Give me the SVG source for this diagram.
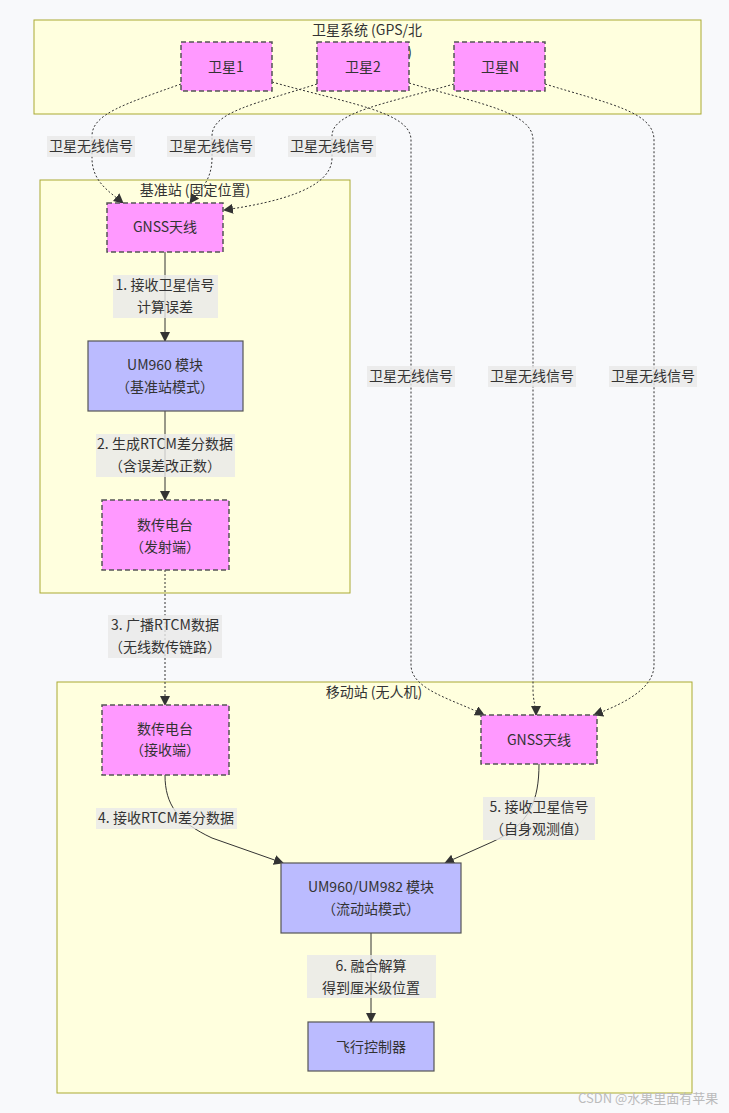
<svg xmlns="http://www.w3.org/2000/svg" width="729" height="1113" viewBox="0 0 729 1113">
<defs>
<style>
text{font-family:"Noto Sans CJK SC","Noto Sans",sans-serif;font-size:14px;fill:#333;text-anchor:middle}
.cl{fill:#ffffde;stroke:#aaaa33;stroke-width:1}
.pk{fill:#ff99ff;stroke:#555;stroke-width:1.5;stroke-dasharray:5 3}
.bl{fill:#bbbbff;stroke:#555;stroke-width:1.2}
.e{fill:none;stroke:#333;stroke-width:1}
.d{fill:none;stroke:#333;stroke-width:1;stroke-dasharray:2 2}
.lb{fill:#e8e8e8;fill-opacity:0.8}
.wm{fill:#bbb;font-size:13px;text-anchor:start}
</style>
<marker id="ah" viewBox="0 0 10 10" refX="9" refY="5" markerWidth="10" markerHeight="10" markerUnits="userSpaceOnUse" orient="auto">
<path d="M0,0 L10,5 L0,10 z" fill="#333"/>
</marker>
</defs>
<rect width="729" height="1113" fill="#f8f9fb"/>

<g id="clusters">
<g id="sat-system">
<rect class="cl" x="34" y="20" width="667" height="94"/>
<text x="367" y="35">卫星系统 (GPS/北</text>
<text x="412" y="57" style="text-anchor:end">斗)</text>
</g>
<g id="base-station">
<rect class="cl" x="40" y="180" width="310" height="413"/>
<text x="195" y="195">基准站 (固定位置)</text>
</g>
<g id="rover">
<rect class="cl" x="57" y="682" width="635" height="411"/>
<text x="374" y="697">移动站 (无人机)</text>
</g>
</g>

<g id="connectors">
<path class="d" d="M181,84 C125,104 92,114 92,136 L92,158 C92,182 110,192 123,203" marker-end="url(#ah)"/>
<path class="d" d="M317,84 C255,104 212,112 212,136 L212,158 C212,182 198,192 190,203" marker-end="url(#ah)"/>
<path class="d" d="M454,84 C385,104 332,112 332,136 L332,158 C332,188 280,202 224,210" marker-end="url(#ah)"/>
<path class="d" d="M272,82 C350,104 411,112 411,140 L411,665 C411,690 455,700 484,715" marker-end="url(#ah)"/>
<path class="d" d="M409,83 C480,104 533,112 533,140 L533,690 C533,700 536,708 536,715" marker-end="url(#ah)"/>
<path class="d" d="M545,84 C610,104 654,112 654,140 L654,665 C654,690 620,705 594,715" marker-end="url(#ah)"/>
<path class="e" d="M165,252 L165,341" marker-end="url(#ah)"/>
<path class="e" d="M165,411 L165,500" marker-end="url(#ah)"/>
<path class="d" d="M165,570 L165,705" marker-end="url(#ah)"/>
<path class="e" d="M165,775 C165,805 178,822 212,838 L283,863" marker-end="url(#ah)"/>
<path class="e" d="M539,764 C539,800 530,825 492,842 L445,863" marker-end="url(#ah)"/>
<path class="e" d="M371,933 L371,1022" marker-end="url(#ah)"/>

<g id="edge-labels">
<rect class="lb" x="47" y="136" width="88" height="21"/>
<text x="91" y="151">卫星无线信号</text>
<rect class="lb" x="167" y="136" width="88" height="21"/>
<text x="211" y="151">卫星无线信号</text>
<rect class="lb" x="288" y="136" width="88" height="21"/>
<text x="332" y="151">卫星无线信号</text>
<rect class="lb" x="367" y="366" width="88" height="21"/>
<text x="411" y="381">卫星无线信号</text>
<rect class="lb" x="488" y="366" width="88" height="21"/>
<text x="532" y="381">卫星无线信号</text>
<rect class="lb" x="609" y="366" width="88" height="21"/>
<text x="653" y="381">卫星无线信号</text>
<rect class="lb" x="113" y="275" width="105" height="43"/>
<text x="165" y="290">1. 接收卫星信号</text>
<text x="165" y="312">计算误差</text>
<rect class="lb" x="96" y="434" width="139" height="43"/>
<text x="165" y="449">2. 生成RTCM差分数据</text>
<text x="165" y="471">（含误差改正数）</text>
<rect class="lb" x="108" y="615" width="114" height="43"/>
<text x="165" y="630">3. 广播RTCM数据</text>
<text x="165" y="652">（无线数传链路）</text>
<rect class="lb" x="96" y="808" width="141" height="21"/>
<text x="166" y="823">4. 接收RTCM差分数据</text>
<rect class="lb" x="483" y="797" width="112" height="43"/>
<text x="539" y="812">5. 接收卫星信号</text>
<text x="539" y="834">（自身观测值）</text>
<rect class="lb" x="307" y="955" width="129" height="43"/>
<text x="371" y="971">6. 融合解算</text>
<text x="371" y="993">得到厘米级位置</text>
</g>
</g>

<g id="sat1"><rect class="pk" x="181" y="42" width="91" height="49"/><text x="226" y="72">卫星1</text></g>
<g id="sat2"><rect class="pk" x="317" y="42" width="92" height="49"/><text x="363" y="72">卫星2</text></g>
<g id="satN"><rect class="pk" x="454" y="42" width="91" height="49"/><text x="500" y="72">卫星N</text></g>

<g id="base-gnss"><rect class="pk" x="107" y="203" width="116" height="49"/><text x="165" y="232">GNSS天线</text></g>
<g id="base-um960"><rect class="bl" x="88" y="341" width="155" height="70"/><text x="165" y="370">UM960 模块</text><text x="165" y="392">（基准站模式）</text></g>
<g id="base-radio"><rect class="pk" x="102" y="500" width="127" height="70"/><text x="165" y="530">数传电台</text><text x="165" y="552">（发射端）</text></g>

<g id="rover-radio"><rect class="pk" x="102" y="705" width="127" height="70"/><text x="165" y="734">数传电台</text><text x="165" y="755">（接收端）</text></g>
<g id="rover-gnss"><rect class="pk" x="481" y="715" width="116" height="49"/><text x="539" y="745">GNSS天线</text></g>
<g id="rover-um"><rect class="bl" x="281" y="863" width="180" height="70"/><text x="371" y="892">UM960/UM982 模块</text><text x="371" y="914">（流动站模式）</text></g>
<g id="fc"><rect class="bl" x="308" y="1022" width="126" height="49"/><text x="371" y="1052">飞行控制器</text></g>

<text class="wm" x="578" y="1103">CSDN @水果里面有苹果</text>
</svg>
